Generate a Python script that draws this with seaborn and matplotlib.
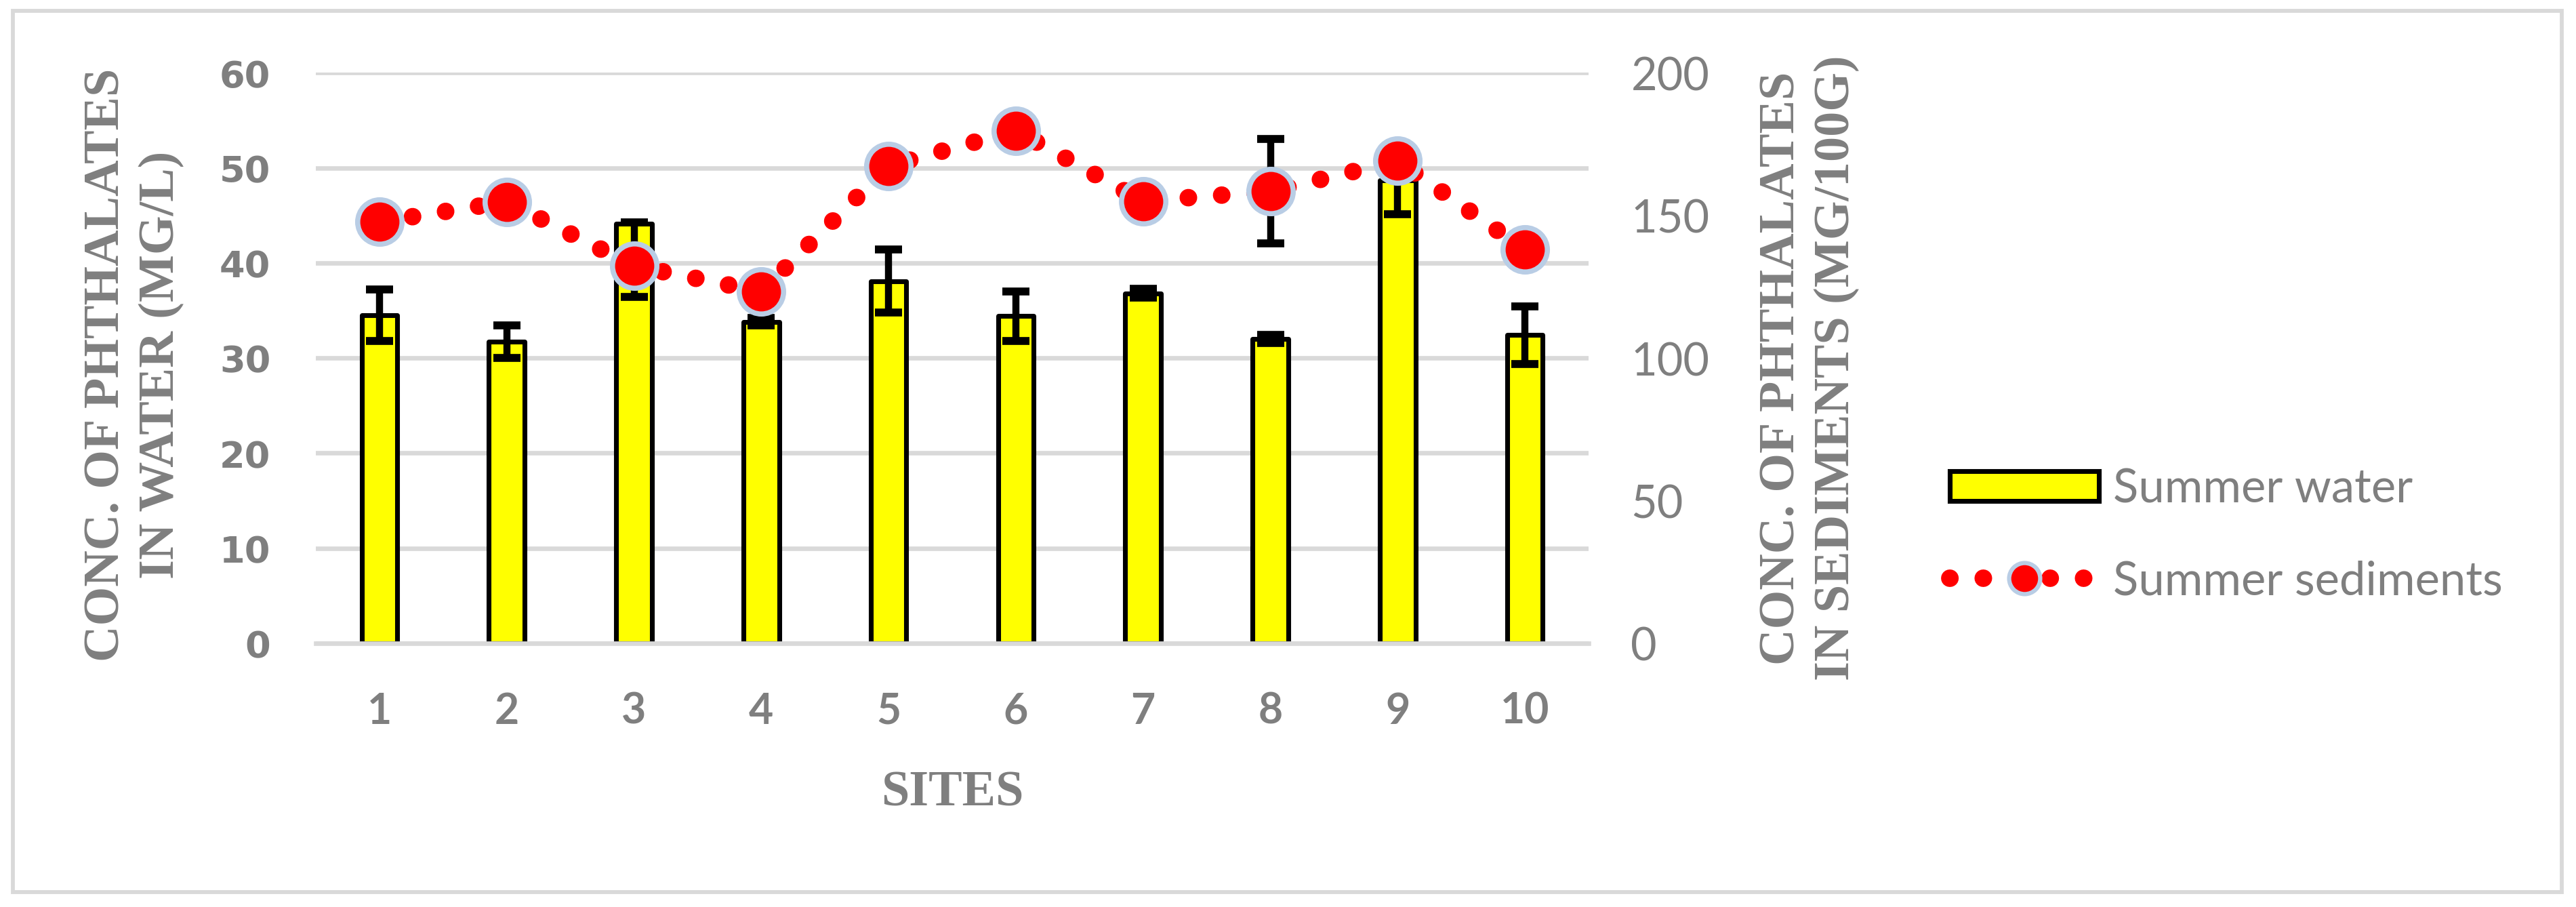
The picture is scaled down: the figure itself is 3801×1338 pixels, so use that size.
import numpy as np
import matplotlib
matplotlib.use("Agg")
import matplotlib.pyplot as plt
from matplotlib.patches import Patch, Rectangle
from matplotlib.lines import Line2D
import seaborn as sns

# -----------------------------
# Datos
# -----------------------------
sites = ["1", "2", "3", "4", "5", "6", "7", "8", "9", "10"]
water = [34.5, 31.7, 44.1, 33.8, 38.1, 34.4, 36.8, 32.0, 48.7, 32.4]
water_err_low = [2.7, 1.7, 7.7, 0.4, 3.3, 2.6, 0.45, 0.4, 3.6, 3.05]
water_err_high = [2.7, 1.7, 0.2, 0.4, 3.3, 2.6, 0.45, 0.4, 3.6, 3.05]
sediments = [147.7, 154.8, 132.3, 123.3, 167.3, 179.7, 155.0, 158.4, 169.1, 138.0]
sed_err = [0, 0, 0, 0, 0, 0, 0, 18.3, 0, 0]

left_ticks = [0, 10, 20, 30, 40, 50, 60]
right_ticks = [0, 50, 100, 150, 200]

GRAY = "#7F7F7F"
LIGHT = "#D9D9D9"

sns.set_style("white")
plt.rcParams["font.family"] = ["Lato", "DejaVu Sans"]

W, H = 3801, 1339
fig = plt.figure(figsize=(W / 300, H / 300), dpi=300)
fig.subplots_adjust(left=466 / W, right=2344 / W, top=1 - 108.3 / H, bottom=1 - 950 / H)
ax = fig.add_subplot(111)

# -----------------------------
# Barras (agua)
# -----------------------------
sns.barplot(x=sites, y=water, color="#FFFF00", saturation=1, width=0.28,
            edgecolor="black", linewidth=1.7, errorbar=None, ax=ax, zorder=2)
for p in ax.patches:
    p.set_joinstyle("round")
x = np.arange(len(sites))
ax.errorbar(x, water, yerr=[water_err_low, water_err_high], fmt="none",
            ecolor="black", elinewidth=2.5, capsize=4.7, capthick=2.8, zorder=3)

ax.set_xlim(-0.5, 9.5)
ax.set_ylim(0, 60)
ax.set_yticks(left_ticks)
ax.yaxis.grid(True, color=LIGHT, lw=1.6)
ax.set_axisbelow(True)
for s in ["top", "right", "left"]:
    ax.spines[s].set_visible(False)
ax.spines["bottom"].set_color(LIGHT)
ax.spines["bottom"].set_linewidth(1.6)
ax.set_xticks(np.arange(-0.5, 10, 1), minor=True)
ax.tick_params(axis="x", which="minor", length=6, width=1.6, color=LIGHT, direction="out")
ax.tick_params(axis="x", which="major", length=0, pad=17, labelsize=15, labelcolor=GRAY)
ax.tick_params(axis="y", length=0, pad=16, labelcolor=GRAY)
for lab in ax.get_xticklabels():
    lab.set_fontweight("bold")
for lab in ax.get_yticklabels():
    lab.set_fontfamily("DejaVu Sans")
    lab.set_fontweight("bold")
    lab.set_fontsize(13)
ax.set_xlabel("")
ax.set_ylabel("")

# -----------------------------
# Línea de sedimentos (eje derecho)
# -----------------------------
ax2 = ax.twinx()
sns.lineplot(x=x, y=sediments, ax=ax2, color="red", lw=6.2,
             linestyle=(0, (0.01, 1.9)), dash_capstyle="round", zorder=2)
ax2.errorbar(x, sediments, yerr=sed_err, fmt="none", ecolor="black",
             elinewidth=2.5, capsize=4.7, capthick=2.8, zorder=3)
sns.scatterplot(x=x, y=sediments, ax=ax2, s=15.7 ** 2, color="red",
                edgecolor="#B9CDE5", linewidth=1.83, zorder=4)
ax2.set_ylim(0, 200)
ax2.set_yticks(right_ticks)
for s in ax2.spines.values():
    s.set_visible(False)
ax2.tick_params(axis="y", length=0, pad=15, labelsize=16, labelcolor=GRAY)
ax2.set_ylabel("")

# -----------------------------
# Títulos de ejes
# -----------------------------
serif = dict(family="Liberation Serif", weight="bold", color=GRAY, size=17.8)
fig.text(158 / W, 1 - 538 / H, "CONC. OF PHTHALATES", rotation=90, ha="center", va="center", **serif)
fig.text(238 / W, 1 - 538 / H, "IN WATER (MG/L)", rotation=90, ha="center", va="center", **serif)
fig.text(2630 / W, 1 - 543 / H, "CONC. OF PHTHALATES", rotation=90, ha="center", va="center", **serif)
fig.text(2710 / W, 1 - 543 / H, "IN SEDIMENTS (MG/100G)", rotation=90, ha="center", va="center", **serif)
fig.text(1405 / W, 1 - 1171 / H, "SITES", ha="center", va="center", **serif)

# -----------------------------
# Leyenda
# -----------------------------
handles = [
    Patch(facecolor="#FFFF00", edgecolor="black", lw=1.7),
    Line2D([], [], color="red", lw=6.2, linestyle=(0, (0.01, 1.9)), dash_capstyle="round",
           marker="o", ms=11, mfc="red", mec="#B9CDE5", mew=1.5),
]
fig.legend(handles, ["Summer water", "Summer sediments"], loc="center left",
           bbox_to_anchor=(2877 / W, 1 - 790 / H), frameon=False, numpoints=1,
           handlelength=3.2, handleheight=0.6, handletextpad=0.3, labelspacing=1.05,
           borderpad=0, borderaxespad=0, prop=dict(family="Lato", size=16.5),
           labelcolor=GRAY)

# Borde exterior
fig.patches.append(Rectangle((19 / W, 1 - 1317 / H), (3780 - 19) / W, (1317 - 17) / H,
                             transform=fig.transFigure, fill=False, ec=LIGHT, lw=1.4))

fig.savefig("out.png", dpi=300)
